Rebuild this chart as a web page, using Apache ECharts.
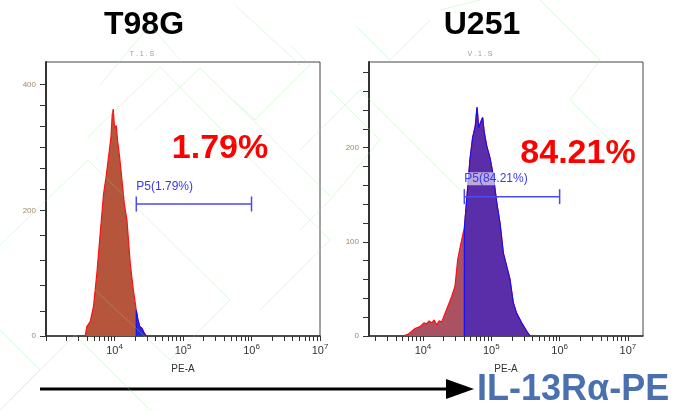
<!DOCTYPE html>
<html><head><meta charset="utf-8">
<script src="https://cdn.jsdelivr.net/npm/echarts@6/dist/echarts.min.js"></script>
<style>html,body{margin:0;padding:0;background:#fff}#c{width:679px;height:411px}</style>
</head><body><div id="c"></div>
<script>
// ---- data ----
const panelTitles = ['T98G', 'U251'];
const percentTexts = ['1.79%', '84.21%'];
const gateLabels = ['P5(1.79%)', 'P5(84.21%)'];
// T98G histogram: PE-A value vs count
const leftX = [3727, 3945, 4417, 4937, 5530, 6184, 6918, 7575, 8185, 8873, 9268, 9590, 9911, 10250, 10610, 11090, 11870, 12850, 13890, 15200, 17010, 18620, 20800, 21780, 23300, 25240, 27290, 29190];
const leftY = [0, 15, 23, 47, 100, 163, 226, 255, 285, 316, 353, 361, 338, 330, 335, 311, 285, 248, 211, 184, 115, 78, 41, 28, 15, 12, 4, 0];
// U251 histogram
const rightX = [5150, 6100, 7640, 9040, 10300, 11320, 12300, 13400, 14600, 15870, 17200, 18790, 21000, 23500, 26300, 29400, 32200, 35600, 38900, 40300, 44500, 48800, 53400, 58300, 61800, 65400, 69900, 74800, 78200, 85600, 95800, 107000, 119900, 134000, 150000, 168000, 187700, 210000, 235000, 278000, 330000, 369000];
const rightY = [0, 2, 8, 10, 14, 13, 16, 14, 17, 12, 16, 15, 24, 33, 42, 53, 81, 97, 110, 114, 152, 188, 211, 223, 243, 221, 227, 232, 218, 202, 189, 170, 142, 120, 88, 74, 60, 35, 24, 14, 5, 0];
// gates [start, end] and height on each panel's count scale
const leftGate = [20800, 1000000], leftGateY = 210;
const rightGate = [40300, 1000000], rightGateY = 148;
// axis ticks
const leftYTicks = [0, 40, 80, 120, 160, 200, 233.3, 266.7, 300, 333.3, 366.7, 400];
const leftYLabels = [0, 200, 400];
const rightYTicks = [0, 20, 40, 60, 80, 100, 120, 140, 160, 180, 200, 220, 240, 260, 280];
const rightYLabels = [0, 100, 200];
const xMajorTicks = [1e3, 1e4, 1e5, 1e6, 1e7];
const xLabelValues = [1e4, 1e5, 1e6, 1e7];
const xMinorTicks = [];
for (let k = 3; k <= 6; k++) for (let m = 2; m <= 9; m++) xMinorTicks.push(m * Math.pow(10, k));
const xAllTicks = xMajorTicks.concat(xMinorTicks).sort((a, b) => a - b);

// ---- chart ----
const chart = echarts.init(document.getElementById('c'), null, {renderer: 'canvas'});
const FONT = '"Liberation Sans", Arial, sans-serif';
const PLOT = 274;
const pairs = (xs, ys) => xs.map((x, i) => [x, ys[i]]);
const blueFrom = (xs, ys, g) => { const out = [[g, 0]]; xs.forEach((x, i) => { if (x >= g) out.push([x, ys[i]]); }); return out; };

function mainX(grid, min, max) {
  return {
    type: 'log', gridIndex: grid, min: min, max: max, position: 'bottom',
    axisLine: {show: true, lineStyle: {color: '#333', width: 1.5}},
    axisTick: {show: true, customValues: xAllTicks, length: 5, lineStyle: {color: '#333'}},
    axisLabel: {show: true, customValues: xLabelValues, margin: 7,
      formatter: v => '{b|10}{s|' + Math.round(Math.log10(v)) + '}',
      rich: {b: {fontSize: 11, color: '#333', fontFamily: FONT}, s: {fontSize: 8, color: '#333', fontFamily: FONT, padding: [0, 0, 7, 0]}}},
    splitLine: {show: false},
    name: 'PE-A', nameLocation: 'middle', nameGap: 28,
    nameTextStyle: {fontSize: 10, color: '#333', fontFamily: FONT}
  };
}
function yAxis(grid, max, ticks, labels) {
  return {
    type: 'value', gridIndex: grid, min: 0, max: max,
    axisLine: {show: true, lineStyle: {color: '#333', width: 2}},
    axisTick: {show: true, customValues: ticks, length: 6, lineStyle: {color: '#333'}},
    axisLabel: {show: true, customValues: labels, fontSize: 8, color: '#a08868', margin: 10, fontFamily: FONT},
    splitLine: {show: false}
  };
}
function gateSeries(xi, yi, gate, gy, label, bg) {
  return {
    type: 'line', xAxisIndex: xi, yAxisIndex: yi, z: 5,
    data: [
      {value: [gate[0], gy], label: {show: true, formatter: label, position: 'top', align: 'left', distance: 4,
        fontSize: 12, color: '#3a3ae8', fontFamily: FONT, backgroundColor: bg, padding: [1, 1, 0, 0]}},
      [gate[1], gy]
    ],
    symbol: 'rect', symbolSize: [1.5, 15], itemStyle: {color: '#4a4af0'},
    lineStyle: {color: '#4a4af0', width: 1.5}, silent: true, animation: false
  };
}

const wm = {type: 'polyline', silent: true, z: 100, style: {stroke: 'rgba(140,235,140,0.3)', lineWidth: 1, fill: null}};
const watermarks = [
  [[0, 245], [88, 160], [230, 300], [170, 360], [95, 290]],
  [[10, 400], [75, 335], [160, 420]],
  [[88, 137], [160, 67], [330, 240], [260, 310]],
  [[135, 130], [200, 68], [330, 196]],
  [[233, 100], [255, 120], [310, 65], [290, 45]],
  [[300, 150], [360, 90], [460, 190]],
  [[235, 5], [300, 65]],
  [[540, 0], [600, 60], [570, 100], [630, 160]],
  [[330, 90], [380, 140], [330, 200], [300, 230]],
  [[100, 85], [150, 25], [180, 60]],
  [[355, 25], [390, 60], [430, 20]],
  [[440, 10], [480, 0]],
  [[0, 330], [40, 370], [0, 410]]
].map(p => Object.assign({}, wm, {shape: {points: p}}));

chart.setOption({
  animation: false,
  backgroundColor: '#fff',
  grid: [
    {left: 46, top: 62, width: PLOT, height: PLOT, show: true, borderColor: '#444', borderWidth: 1},
    {left: 369, top: 62, width: PLOT, height: PLOT, show: true, borderColor: '#444', borderWidth: 1}
  ],
  xAxis: [mainX(0, 1000, 1e7), mainX(1, 1622, 1.66e7)],
  yAxis: [yAxis(0, 436, leftYTicks, leftYLabels), yAxis(1, 291, rightYTicks, rightYLabels)],
  series: [
    {type: 'line', xAxisIndex: 0, yAxisIndex: 0, data: pairs(leftX, leftY), symbol: 'none',
      lineStyle: {color: '#ff1010', width: 1.2}, areaStyle: {color: '#b5553b', opacity: 1}},
    {type: 'line', xAxisIndex: 0, yAxisIndex: 0, data: blueFrom(leftX, leftY, leftGate[0]), symbol: 'none',
      lineStyle: {color: '#1010ff', width: 1.2}, areaStyle: {color: '#2a2ad8', opacity: 1}},
    {type: 'line', xAxisIndex: 1, yAxisIndex: 1, data: pairs(rightX, rightY), symbol: 'none',
      lineStyle: {color: '#ff1010', width: 1.2}, areaStyle: {color: '#aa5262', opacity: 1}},
    {type: 'line', xAxisIndex: 1, yAxisIndex: 1, data: blueFrom(rightX, rightY, rightGate[0]), symbol: 'none',
      lineStyle: {color: '#1010ff', width: 1.2}, areaStyle: {color: '#5a2ea8', opacity: 1}},
    gateSeries(0, 0, leftGate, leftGateY, gateLabels[0], 'transparent'),
    gateSeries(1, 1, rightGate, rightGateY, gateLabels[1], 'rgba(255,255,255,0.6)')
  ],
  graphic: [
    ...watermarks,
    {type: 'text', x: 144, y: 25, style: {text: panelTitles[0], font: 'bold 32px ' + FONT, fill: '#000', textAlign: 'center', textVerticalAlign: 'middle'}},
    {type: 'text', x: 482, y: 25, style: {text: panelTitles[1], font: 'bold 32px ' + FONT, fill: '#000', textAlign: 'center', textVerticalAlign: 'middle'}},
    {type: 'text', x: 142, y: 54, style: {text: 'T . 1 . S', font: '7px ' + FONT, fill: '#999', textAlign: 'center', textVerticalAlign: 'middle'}},
    {type: 'text', x: 480, y: 54, style: {text: 'V . 1 . S', font: '7px ' + FONT, fill: '#999', textAlign: 'center', textVerticalAlign: 'middle'}},
    {type: 'text', x: 220, y: 149, z: 10, style: {text: percentTexts[0], font: 'bold 34px ' + FONT, fill: '#ff0000', textAlign: 'center', textVerticalAlign: 'middle'}},
    {type: 'text', x: 578, y: 154, z: 10, style: {text: percentTexts[1], font: 'bold 34px ' + FONT, fill: '#ff0000', textAlign: 'center', textVerticalAlign: 'middle'}},
    {type: 'line', shape: {x1: 40, y1: 389, x2: 450, y2: 389}, style: {stroke: '#000', lineWidth: 3}},
    {type: 'polygon', shape: {points: [[446, 379], [474, 389], [446, 399]]}, style: {fill: '#000'}},
    {type: 'text', x: 477, y: 390, style: {text: 'IL-13Rα-PE', font: 'bold 36px ' + FONT, fill: '#4a70b0', textAlign: 'left', textVerticalAlign: 'middle'}}
  ]
});
</script></body></html>
